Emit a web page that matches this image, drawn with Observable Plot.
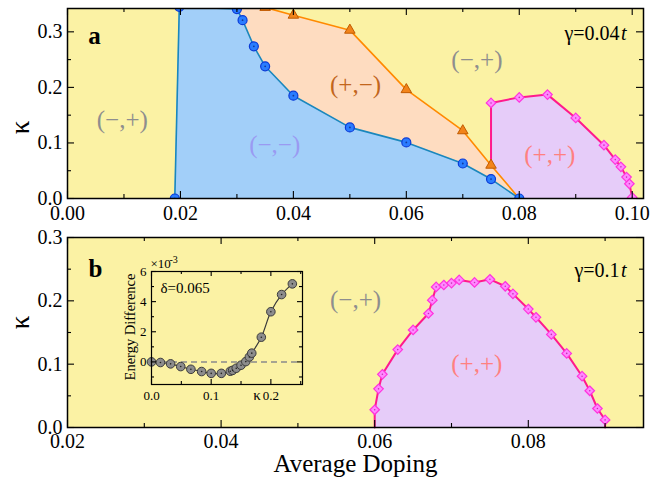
<!DOCTYPE html>
<html><head><meta charset="utf-8">
<script src="https://cdn.jsdelivr.net/npm/d3@7"></script>
<script src="https://cdn.jsdelivr.net/npm/@observablehq/plot@0.6"></script>
<style>
body{margin:0;background:#fff;}
#wrap{position:relative;width:650px;height:481px;overflow:hidden;}
#wrap svg{position:absolute;overflow:visible;font-family:"Liberation Serif","Times New Roman",serif;}
#wrap svg text{font-family:"Liberation Serif","Times New Roman",serif !important;font-variant:normal !important;}
</style></head><body><div id="wrap"></div>
<script>
// ---------- Panel a (gamma = 0.04t) ----------
const blueDoping  = [0.019, 0.0198, 0.030, 0.031, 0.033, 0.035, 0.040, 0.050, 0.060, 0.070, 0.075, 0.080];
const blueKappa   = [0.000, 0.345, 0.341, 0.321, 0.274, 0.238, 0.185, 0.128, 0.101, 0.063, 0.035, 0.000];
const orangeDoping = [0.035, 0.040, 0.050, 0.060, 0.070, 0.075, 0.080];
const orangeKappa  = [0.344, 0.330, 0.303, 0.196, 0.122, 0.060, 0.000];
const pinkDopingA = [0.075, 0.080, 0.085, 0.090, 0.095, 0.097, 0.098, 0.099, 0.0995, 0.100];
const pinkKappaA  = [0.172, 0.182, 0.187, 0.145, 0.096, 0.070, 0.057, 0.0385, 0.0265, 0.002];
// ---------- Panel b (gamma = 0.1t) ----------
const pinkDopingB = [0.0600, 0.0605, 0.0610, 0.0630, 0.0650, 0.0670, 0.0675, 0.0680, 0.0690, 0.0700, 0.0710, 0.0730,
                     0.0750, 0.0770, 0.0780, 0.0800, 0.0810, 0.0830, 0.0850, 0.0870, 0.0880, 0.0890, 0.0900];
const pinkKappaB  = [0.028, 0.061, 0.084, 0.123, 0.154, 0.180, 0.201, 0.222, 0.225, 0.228, 0.233, 0.229,
                     0.234, 0.223, 0.211, 0.187, 0.174, 0.147, 0.117, 0.081, 0.058, 0.030, 0.012];
// ---------- Inset (delta = 0.065) ----------
const insetKappa  = [0, 0.015, 0.032, 0.049, 0.066, 0.084, 0.100, 0.117, 0.132, 0.136, 0.142, 0.150, 0.158, 0.164, 0.168, 0.184, 0.200, 0.218, 0.236];
const insetEnergy = [0, -0.04, -0.13, -0.31, -0.49, -0.64, -0.76, -0.76, -0.62, -0.56, -0.42, -0.22, 0.02, 0.33, 0.58, 1.64, 3.33, 4.47, 5.18];
// ---------- Ticks ----------
const xTicksA = [0, 0.02, 0.04, 0.06, 0.08, 0.10];
const xMinorA = [0.01, 0.03, 0.05, 0.07, 0.09];
const xTicksB = [0.02, 0.04, 0.06, 0.08];
const xMinorB = [0.03, 0.05, 0.07, 0.09];
const yTicks = [0, 0.1, 0.2, 0.3];
const yMinor = [0.05, 0.15, 0.25];
const insetXTicks = [0, 0.1, 0.2];
const insetXMinor = [0.05, 0.15, 0.25];
const insetYTicks = [0, 2, 4, 6];
const insetYMinor = [-1, 1, 3, 5];

const pts = (xs, ys) => xs.map((x, i) => ({x, y: ys[i]}));
const blue = pts(blueDoping, blueKappa);
const orange = pts(orangeDoping, orangeKappa);
const pinkA = pts(pinkDopingA, pinkKappaA);
const pinkB = pts(pinkDopingB, pinkKappaB);
const inset = pts(insetKappa, insetEnergy);
const peach = [blue[2], ...orange];
const pinkLineA = [orange[5], ...pinkA];
const pinkLineB = [{x: pinkB[0].x, y: 0}, ...pinkB, {x: pinkB[pinkB.length - 1].x, y: 0}];

const FONT = '"Liberation Serif","Times New Roman",serif';
const YELLOW = "#fbf2a4", BLUEF = "#a2cff9", PEACH = "#fedcc0", PURPLE = "#e6ccf9";
const GRAY = "#8e8e8e";

function frameTicks(xMaj, xMin, yMaj, yMin, W, H, maj = 7, mn = 4) {
  const o = {stroke: "black", strokeWidth: 1.1};
  const fx = d => d;
  return [
    Plot.tickX(xMaj, {x: fx, insetTop: H - maj, ...o}),
    Plot.tickX(xMaj, {x: fx, insetBottom: H - maj, ...o}),
    Plot.tickX(xMin, {x: fx, insetTop: H - mn, ...o}),
    Plot.tickX(xMin, {x: fx, insetBottom: H - mn, ...o}),
    Plot.tickY(yMaj, {y: fx, insetRight: W - maj, ...o}),
    Plot.tickY(yMaj, {y: fx, insetLeft: W - maj, ...o}),
    Plot.tickY(yMin, {y: fx, insetRight: W - mn, ...o}),
    Plot.tickY(yMin, {y: fx, insetLeft: W - mn, ...o})
  ];
}
const txt = (s, opts) => Plot.text([s], {text: d => d, fontFamily: FONT, lineAnchor: "middle", textAnchor: "middle", ...opts});

// ---------- Panel a ----------
const WA = 650, HA = 230, mA = {t: 8, b: 32, l: 67, r: 7};
const innerWA = WA - mA.l - mA.r, innerHA = HA - mA.t - mA.b;
const plotA = Plot.plot({
  width: WA, height: HA, marginTop: mA.t, marginBottom: mA.b, marginLeft: mA.l, marginRight: mA.r,
  x: {domain: [0, 0.102]}, y: {domain: [0, 0.342]},
  style: {background: "transparent", fontFamily: FONT},
  marks: [
    Plot.frame({fill: YELLOW}),
    Plot.areaY(pinkA, {x: "x", y: "y", fill: PURPLE, clip: true}),
    Plot.areaY(peach, {x: "x", y: "y", fill: PEACH, clip: true}),
    Plot.areaY(blue, {x: "x", y: "y", fill: BLUEF, clip: true}),
    Plot.line(orange, {x: "x", y: "y", stroke: "#ff8a00", strokeWidth: 1.6, clip: true}),
    Plot.line(blue, {x: "x", y: "y", stroke: "#1a87bd", strokeWidth: 1.6, clip: true}),
    Plot.line(pinkLineA, {x: "x", y: "y", stroke: "#ff1a8c", strokeWidth: 2, clip: true}),
    Plot.dot(orange.slice(0, -1), {x: "x", y: "y", symbol: "triangle", r: 3.9, fill: "#f2841a", stroke: "#c05a00", strokeWidth: 1, clip: true}),
    Plot.dot(blue, {x: "x", y: "y", r: 4.5, fill: "#2a7cff", stroke: "#0a3ad6", strokeWidth: 1.2, clip: true}),
    Plot.dot(blue, {x: "x", y: "y", r: 0.9, fill: "#123a9a", clip: true}),
    Plot.dot(pinkA, {x: "x", y: "y", symbol: "diamond2", r: 4.3, fill: "#ff88ff", stroke: "#ff33dd", strokeWidth: 1.2, clip: true}),
    Plot.dot(pinkA, {x: "x", y: "y", r: 0.8, fill: "#c03ab0", clip: true}),
    txt("(−,+)", {x: 0.0097, y: 0.141, fill: GRAY, fontSize: 25}),
    txt("(−,−)", {x: 0.0367, y: 0.096, fill: "#9a9af2", fontSize: 25}),
    txt("(+,−)", {x: 0.051, y: 0.204, fill: "#c2661c", fontSize: 25}),
    txt("(−,+)", {x: 0.0725, y: 0.249, fill: GRAY, fontSize: 25}),
    txt("(+,+)", {x: 0.0854, y: 0.079, fill: "#ff8080", fontSize: 25}),
    txt("a", {frameAnchor: "top-left", dx: 27, dy: 27, fontSize: 25, fontWeight: "bold", fill: "black"}),
    txt("γ=0.04", {frameAnchor: "top-right", dx: -24, dy: 25, textAnchor: "end", fontSize: 20, fill: "black"}),
    txt("t", {frameAnchor: "top-right", dx: -17, dy: 25, textAnchor: "end", fontSize: 20, fontStyle: "italic", fill: "black"}),
    txt("κ", {frameAnchor: "left", dx: -47, dy: 24, rotate: -90, fontSize: 27, fill: "black"}),
    ...frameTicks(xTicksA, xMinorA, yTicks, yMinor, innerWA, innerHA),
    Plot.frame({stroke: "black", strokeWidth: 1.5}),
    Plot.axisX({ticks: xTicksA, tickSize: 0, tickPadding: 7, tickFormat: d3.format(".2f"), label: null, fontSize: 20, fontFamily: FONT, fill: "black"}),
    Plot.axisY({ticks: yTicks, tickSize: 0, tickPadding: 5, tickFormat: d3.format(".1f"), label: null, fontSize: 20, fontFamily: FONT, fill: "black"})
  ]
});

// ---------- Panel b ----------
const WB = 650, HB = 251, mB = {t: 7, b: 54, l: 67, r: 7};
const innerWB = WB - mB.l - mB.r, innerHB = HB - mB.t - mB.b;
const plotB = Plot.plot({
  width: WB, height: HB, marginTop: mB.t, marginBottom: mB.b, marginLeft: mB.l, marginRight: mB.r,
  x: {domain: [0.02, 0.095]}, y: {domain: [0, 0.3]},
  style: {background: "transparent", fontFamily: FONT},
  marks: [
    Plot.frame({fill: YELLOW}),
    Plot.areaY(pinkLineB, {x: "x", y: "y", fill: PURPLE}),
    Plot.line(pinkLineB, {x: "x", y: "y", stroke: "#ff1a8c", strokeWidth: 2}),
    Plot.dot(pinkB, {x: "x", y: "y", symbol: "diamond2", r: 4.3, fill: "#ff88ff", stroke: "#ff33dd", strokeWidth: 1.2}),
    Plot.dot(pinkB, {x: "x", y: "y", r: 0.8, fill: "#c03ab0"}),
    txt("(−,+)", {x: 0.0575, y: 0.201, fill: GRAY, fontSize: 25}),
    txt("(+,+)", {x: 0.0733, y: 0.100, fill: "#ff8080", fontSize: 25}),
    txt("b", {frameAnchor: "top-left", dx: 28, dy: 31, fontSize: 25, fontWeight: "bold", fill: "black"}),
    txt("γ=0.1", {frameAnchor: "top-right", dx: -24, dy: 33, textAnchor: "end", fontSize: 20, fill: "black"}),
    txt("t", {frameAnchor: "top-right", dx: -17, dy: 33, textAnchor: "end", fontSize: 20, fontStyle: "italic", fill: "black"}),
    txt("κ", {frameAnchor: "left", dx: -47, dy: -10, rotate: -90, fontSize: 27, fill: "black"}),
    txt("Average Doping", {frameAnchor: "bottom", dy: 36, fontSize: 25, fill: "black"}),
    ...frameTicks(xTicksB, xMinorB, yTicks, yMinor, innerWB, innerHB),
    Plot.frame({stroke: "black", strokeWidth: 1.5}),
    Plot.axisX({ticks: xTicksB, tickSize: 0, tickPadding: 6, tickFormat: d3.format(".2f"), label: null, fontSize: 20, fontFamily: FONT, fill: "black"}),
    Plot.axisY({ticks: yTicks, tickSize: 0, tickPadding: 5, tickFormat: d3.format(".1f"), label: null, fontSize: 20, fontFamily: FONT, fill: "black"})
  ]
});

// ---------- Inset ----------
const WI = 191, HI = 159, mI = {t: 22, b: 24, l: 36, r: 4};
const innerWI = WI - mI.l - mI.r, innerHI = HI - mI.t - mI.b;
const plotI = Plot.plot({
  width: WI, height: HI, marginTop: mI.t, marginBottom: mI.b, marginLeft: mI.l, marginRight: mI.r,
  x: {domain: [0, 0.253]}, y: {domain: [-1.5, 6]},
  style: {background: "transparent", fontFamily: FONT},
  marks: [
    Plot.frame({fill: YELLOW}),
    Plot.ruleY([0], {stroke: "#8a8a8a", strokeWidth: 1.5, strokeDasharray: "6,4"}),
    Plot.line(inset, {x: "x", y: "y", stroke: "#3a3a3a", strokeWidth: 1.2, curve: "catmull-rom"}),
    Plot.dot(inset, {x: "x", y: "y", r: 4.3, fill: "#8c8c8c", stroke: "#3c3c3c", strokeWidth: 1}),
    Plot.dot(inset, {x: "x", y: "y", r: 0.8, fill: "#222"}),
    ...frameTicks(insetXTicks, insetXMinor, insetYTicks, insetYMinor, innerWI, innerHI, 5, 3),
    Plot.frame({stroke: "black", strokeWidth: 1.2}),
    Plot.axisX({ticks: insetXTicks, tickSize: 0, tickPadding: 6, tickFormat: d3.format(".1f"), label: null, fontSize: 13, fontFamily: FONT, fill: "black"}),
    Plot.axisY({ticks: insetYTicks, tickSize: 0, tickPadding: 5, tickFormat: d3.format("d"), label: null, fontSize: 13, fontFamily: FONT, fill: "black"}),
    txt("κ", {x: 0.177, frameAnchor: "bottom", dy: 11, fontSize: 15, fill: "black"}),
    txt("δ=0.065", {frameAnchor: "top-left", dx: 9, dy: 17, textAnchor: "start", fontSize: 15, fill: "black"}),
    txt("×10", {frameAnchor: "top-left", dx: -1, dy: -8, textAnchor: "start", fontSize: 13, fill: "black"}),
    txt("-3", {frameAnchor: "top-left", dx: 18, dy: -12, textAnchor: "start", fontSize: 10, fill: "black"}),
    txt("Energy Difference", {frameAnchor: "left", dx: -21, dy: -1, rotate: -90, fontSize: 14.5, fill: "black"})
  ]
});

const wrap = document.getElementById("wrap");
plotA.style.left = "0px"; plotA.style.top = "0px";
plotB.style.left = "0px"; plotB.style.top = "230px";
plotI.style.left = "115px"; plotI.style.top = "249px";
wrap.append(plotA, plotB, plotI);
</script>
</body></html>
